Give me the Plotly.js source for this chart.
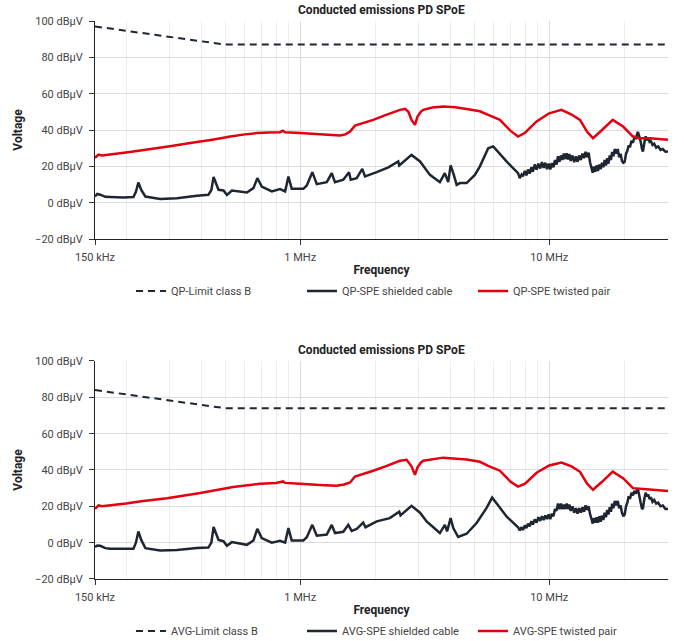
<!DOCTYPE html>
<html>
<head>
<meta charset="utf-8">
<script src="https://cdn.plot.ly/plotly-3.0.1.min.js"></script>
<style>html,body{margin:0;padding:0;background:#fff}#chart{width:684px;height:641px}</style>
</head>
<body>
<div id="chart"></div>
<script>
// Frequencies in MHz, levels in dBµV
const chartTitle = "Conducted emissions PD SPoE";
const xTickVals = [0.15, 1, 10];
const xTickText = ["150 kHz", "1 MHz", "10 MHz"];
const xGridVals = [0.2,0.3,0.4,0.5,0.6,0.7,0.8,0.9,2,3,4,5,6,7,8,9,20,30];
const yTickVals = [-20, 0, 20, 40, 60, 80, 100];
const yTickText = ["−20 dBµV", "0 dBµV", "20 dBµV", "40 dBµV", "60 dBµV", "80 dBµV", "100 dBµV"];

// Limits
const qpLimitF = [0.15, 0.5, 30];
const qpLimitV = [97, 87, 87];
const avgLimitF = [0.15, 0.5, 30];
const avgLimitV = [84, 74, 74];

// QP twisted pair
const qpTwistF = [0.15,0.155,0.16,0.2,0.228,0.3,0.362,0.45,0.524,0.6,0.67,0.75,0.83,0.852,0.87,1.0,1.2,1.446,1.52,1.586,1.66,1.965,2.2,2.516,2.64,2.72,2.8,2.89,2.96,3.05,3.12,3.4,3.75,4.2,4.66,5.27,5.69,6.34,7.0,7.5,8.0,8.9,10,11.2,12.3,13.3,14.2,15.0,16.3,18.0,19.8,21.7,23,25.3,30];
const qpTwistV = [24.7,26.5,26.0,27.6,28.7,31.0,32.8,34.8,36.4,37.6,38.3,38.6,38.8,39.6,38.8,38.3,37.6,37.0,37.6,39.1,42.4,45.6,48.2,51.1,51.6,50.0,45.6,42.8,47.4,50.0,51.1,52.4,52.9,52.5,51.6,50.3,48.3,45.6,39.5,36.4,38.5,44.7,49.2,51.1,48.5,45.6,39.0,35.5,40.0,45.6,41.9,36.4,35.5,35.5,34.6];

// QP shielded cable
const qpShieldF = [0.15,0.1532,0.1575,0.165,0.1728,0.195,0.214,0.219,0.224,0.23,0.239,0.274,0.32,0.385,0.428,0.44,0.449,0.47,0.492,0.508,0.532,0.611,0.649,0.673,0.701,0.769,0.83,0.87,0.897,0.925,1.03,1.063,1.119,1.166,1.279,1.339,1.38,1.49,1.571,1.596,1.686,1.776,1.821,2.03,2.26,2.477,2.5,2.8,3.03,3.32,3.64,3.81,3.93,4.02,4.14,4.25,4.38,4.66,5.03,5.27,5.69,5.96,6.74,7.5,
  7.62,7.75,7.85,7.98,8.1,8.22,8.35,8.48,8.6,8.75,8.9,9.05,9.2,9.35,9.5,9.65,9.8,9.95,10.1,10.25,10.4,10.55,10.7,10.85,11.0,11.15,11.3,11.45,11.6,11.75,11.9,12.05,12.2,12.4,12.6,12.8,13.0,13.2,13.4,13.6,13.8,14.0,14.2,14.4,14.6,14.8,14.95,15.1,15.3,15.5,15.7,15.9,16.1,16.3,16.5,16.7,16.9,17.1,17.3,17.5,17.7,17.9,18.1,18.35,18.6,18.85,19.1,19.35,19.6,19.85,20.1,20.35,20.6,20.85,21.1,21.4,21.7,22.0,22.3,22.7,23.0,23.3,23.6,23.8,24.1,24.4,24.7,25.0,25.3,25.6,26.0,26.4,26.9,27.4,28.0,28.6,29.3,30];
const qpShieldV = [3.4,4.8,4.4,3.2,3.1,2.9,3.1,6.0,11.1,7.0,3.4,2.0,2.5,3.8,4.3,7.0,14.1,7.1,6.7,4.3,6.7,5.6,8.0,13.5,8.9,6.2,7.5,6.2,14.4,7.6,7.6,9.5,16.8,10.2,11.3,16.3,11.3,12.6,16.8,12.6,13.5,18.6,14.4,16.8,19.4,22.7,20.5,26.3,22.7,15.3,11.3,16.3,11.3,20.5,15.3,9.8,10.8,10.8,15.3,20.0,30.0,30.9,22.7,16.3,
  13.5,15.5,14.5,17.5,15.0,18.2,16.0,19.5,17.0,21.0,18.2,21.5,18.8,22.3,19.2,22.0,18.5,21.5,18.3,21.8,19.5,23.5,21.0,25.5,22.5,26.0,23.5,27.0,24.0,27.2,23.8,26.8,23.0,26.0,22.3,25.5,22.5,26.0,23.5,27.0,24.5,28.0,25.0,27.5,22.0,19.0,16.5,19.8,17.0,20.5,17.5,21.0,18.5,22.0,19.5,23.5,20.5,24.5,21.5,26.0,23.5,28.0,25.5,29.5,27.0,29.5,25.0,27.0,23.0,22.0,22.5,27.0,28.5,31.5,30.5,34.0,33.0,36.0,35.5,39.0,36.5,33.5,29.5,28.1,33.0,36.5,34.5,35.5,33.5,34.0,31.8,32.5,30.3,31.0,29.0,29.5,28.0,28.1];

// AVG twisted pair
const avgTwistF = [0.15,0.155,0.16,0.2,0.23,0.292,0.397,0.538,0.69,0.8,0.854,0.87,1.0,1.2,1.4,1.5,1.586,1.66,1.965,2.2,2.516,2.676,2.8,2.89,2.96,3.05,3.12,3.75,4.66,5.27,5.69,6.34,7.0,7.5,8.0,8.9,10,11.2,12.3,13.3,14.2,15.0,16.3,18.0,19.8,21.7,25.3,30];
const avgTwistV = [18.6,20.5,20.0,21.6,22.8,24.5,27.3,30.6,32.4,32.8,33.7,32.9,32.4,31.8,31.3,32.0,33.1,36.4,39.6,42.0,45.1,45.6,42.0,37.3,41.5,44.0,45.1,46.8,45.8,44.5,42.3,39.6,33.5,30.9,32.5,38.5,42.5,44.1,42.0,39.0,32.5,29.1,33.5,39.1,35.5,30.0,29.2,28.5];

// AVG shielded cable
const avgShieldF = [0.15,0.1532,0.1575,0.165,0.1728,0.195,0.214,0.219,0.224,0.23,0.239,0.274,0.32,0.385,0.428,0.44,0.449,0.47,0.492,0.508,0.532,0.611,0.649,0.673,0.701,0.769,0.83,0.87,0.897,0.925,1.03,1.063,1.119,1.166,1.279,1.339,1.38,1.49,1.56,1.61,1.686,1.79,1.83,2.03,2.29,2.5,2.53,2.8,3.03,3.22,3.64,3.81,3.89,4.02,4.12,4.31,4.66,5.11,5.6,5.9,6.2,6.74,7.5,
  7.62,7.75,7.85,7.98,8.1,8.22,8.35,8.48,8.6,8.75,8.9,9.05,9.2,9.35,9.5,9.65,9.8,9.95,10.1,10.25,10.4,10.55,10.7,10.85,11.0,11.15,11.3,11.45,11.6,11.75,11.9,12.05,12.2,12.4,12.6,12.8,13.0,13.2,13.4,13.6,13.8,14.0,14.2,14.4,14.6,14.8,14.95,15.1,15.3,15.5,15.7,15.9,16.1,16.3,16.5,16.7,16.9,17.1,17.3,17.5,17.7,17.9,18.1,18.35,18.6,18.85,19.1,19.35,19.6,19.85,20.1,20.35,20.6,20.85,21.1,21.4,21.7,22.0,22.3,22.7,23.0,23.3,23.6,23.8,24.1,24.4,24.7,25.0,25.3,25.6,26.0,26.4,26.9,27.4,28.0,28.6,29.3,30];
const avgShieldV = [-2.4,-1.6,-1.7,-3.0,-3.4,-3.4,-3.3,0.0,6.2,1.5,-3.0,-4.3,-4.0,-3.0,-2.7,0.0,8.6,1.5,0.8,-1.7,0.3,-1.2,1.2,7.6,2.5,0.0,1.0,0.0,8.0,1.2,1.2,3.0,9.8,3.8,4.5,9.8,5.3,6.0,9.8,6.5,7.5,11.1,8.5,11.7,13.5,17.1,15.0,20.3,16.5,11.7,5.3,9.8,6.2,13.5,8.0,3.1,4.9,10.8,19.0,24.8,21.0,14.4,8.5,
  6.8,8.5,7.0,9.5,8.0,10.5,9.0,11.8,10.0,12.8,11.0,14.0,12.0,14.5,12.5,15.0,13.0,15.5,13.0,16.0,14.5,18.5,17.5,21.5,18.5,21.5,18.5,21.0,18.5,21.5,18.5,21.0,17.5,20.0,16.5,19.0,16.0,19.0,16.5,19.5,17.0,20.5,18.0,20.0,15.5,13.0,10.5,13.5,11.0,14.0,11.0,14.5,11.5,15.0,12.5,16.5,14.0,18.0,15.5,19.5,17.0,21.5,19.0,23.0,20.5,23.0,19.0,20.5,16.5,14.5,15.5,20.0,22.0,25.5,24.0,27.5,26.0,28.5,27.0,29.5,26.0,22.0,18.5,19.0,24.0,27.5,25.5,26.5,24.0,25.0,22.5,23.5,21.5,22.0,20.0,20.5,18.5,18.5];

const dark = "#1e2731";
const red = "#e3000f";
const fontFam = "Roboto, 'Noto Sans', sans-serif";

function tr(x, y, name, color, dash, xa, ya, leg, width) {
  return {x: x, y: y, name: name, type: "scatter", mode: "lines",
    line: {color: color, width: width, dash: dash, simplify: false},
    xaxis: xa, yaxis: ya, legend: leg, hoverinfo: "skip"};
}

const limDash = "7px,5px";
const data = [
  tr(qpLimitF, qpLimitV, "QP-Limit class B", dark, limDash, "x", "y", "legend", 2),
  tr(qpShieldF, qpShieldV, "QP-SPE shielded cable", dark, "solid", "x", "y", "legend", 2.5),
  tr(qpTwistF, qpTwistV, "QP-SPE twisted pair", red, "solid", "x", "y", "legend", 2.5),
  tr(avgLimitF, avgLimitV, "AVG-Limit class B", dark, limDash, "x2", "y2", "legend2", 2),
  tr(avgShieldF, avgShieldV, "AVG-SPE shielded cable", dark, "solid", "x2", "y2", "legend2", 2.5),
  tr(avgTwistF, avgTwistV, "AVG-SPE twisted pair", red, "solid", "x2", "y2", "legend2", 2.5)
];

function xAxis(anchor) {
  return {type: "log", anchor: anchor, range: [Math.log10(0.15), Math.log10(30)],
    tickmode: "array", tickvals: xTickVals, ticktext: xTickText,
    ticks: "outside", ticklen: 5, tickcolor: "#333", tickfont: {size: 11, color: "#444"},
    ticklabelstandoff: 3,
    showgrid: true, gridcolor: "#dcdcdc", gridwidth: 1,
    minor: {tickmode: "array", tickvals: xGridVals, showgrid: true, gridcolor: "#ececec", gridwidth: 1, ticks: ""},
    showline: true, linecolor: "#222", linewidth: 1, zeroline: false,
    title: {text: "Frequency", font: {size: 12, color: "#222", weight: "bold"}, standoff: 2},
    fixedrange: true, automargin: false};
}
function yAxis(domain, anchor) {
  return {domain: domain, anchor: anchor, range: [-20, 100], tickmode: "array",
    tickvals: yTickVals, ticktext: yTickText,
    ticks: "outside", ticklen: 5, tickcolor: "#333",
    tickfont: {size: 11, color: "#444"}, ticklabelstandoff: 4,
    showgrid: true, gridcolor: "#dcdcdc", gridwidth: 1,
    showline: true, linecolor: "#222", linewidth: 1, zeroline: false,
    title: {text: "Voltage", font: {size: 12, color: "#222", weight: "bold"}, standoff: 9},
    fixedrange: true, automargin: false};
}

const legendBase = {orientation: "h", x: 0.0628, xanchor: "left", yanchor: "middle",
  font: {size: 11, color: "#444"}, entrywidth: 126, entrywidthmode: "pixels",
  bgcolor: "rgba(0,0,0,0)", itemclick: false, itemdoubleclick: false};

const layout = {
  width: 684, height: 641,
  margin: {l: 95, r: 16, t: 21, b: 62, autoexpand: false},
  paper_bgcolor: "#fff", plot_bgcolor: "#fff",
  font: {family: fontFam, color: "#444", size: 11},
  xaxis: Object.assign(xAxis("y"), {domain: [0, 1]}),
  yaxis: yAxis([0.6093, 1], "x"),
  xaxis2: Object.assign(xAxis("y2"), {domain: [0, 1]}),
  yaxis2: yAxis([0, 0.3907], "x2"),
  showlegend: true,
  legend: Object.assign({}, legendBase, {y: 0.516}),
  legend2: Object.assign({}, legendBase, {y: -0.0932}),
  annotations: [
    {text: chartTitle, xref: "paper", yref: "paper", x: 0.5, y: 1.0197, xanchor: "center", yanchor: "middle",
     showarrow: false, font: {size: 12, color: "#222", weight: "bold"}},
    {text: chartTitle, xref: "paper", yref: "paper", x: 0.5, y: 0.4104, xanchor: "center", yanchor: "middle",
     showarrow: false, font: {size: 12, color: "#222", weight: "bold"}}
  ]
};

Plotly.newPlot("chart", data, layout, {displayModeBar: false});
</script>
</body>
</html>
